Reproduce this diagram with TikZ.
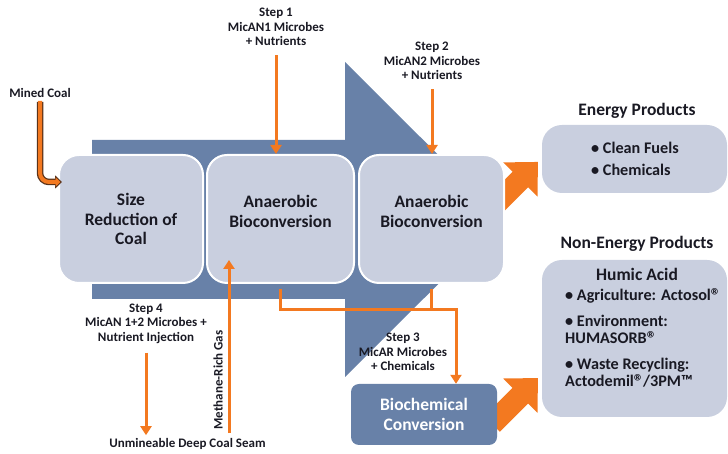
\documentclass[tikz,border=0pt]{standalone}
\usepackage{fontspec}
\setmainfont{Carlito}
\usetikzlibrary{arrows.meta}

\definecolor{flowblue}{RGB}{104,129,168}
\definecolor{boxblue}{RGB}{201,207,223}
\definecolor{feedorange}{RGB}{243,121,32}
\definecolor{txtdark}{RGB}{25,25,35}
\definecolor{rimbrown}{RGB}{90,50,25}

\newcommand\bigtxt{\fontsize{17.5}{19.5}\selectfont\bfseries}
\newcommand\listtxt{\fontsize{16.2}{17}\selectfont\bfseries}
\newcommand\smalltxt{\fontsize{13}{14.5}\selectfont\bfseries}
\newcommand\headtxt{\fontsize{17.5}{18}\selectfont\bfseries}
\newcommand\regmark{\smash{\raisebox{-1.5pt}{\fontsize{20}{17}\selectfont ®}}\kern-1pt}

\begin{document}
\begin{tikzpicture}[x=1pt,y=1pt,inner sep=0pt,
    stage/.style={rounded corners=20pt,fill=boxblue,draw=white,line width=2pt,
      minimum width=144pt,minimum height=128pt,align=center,font=\bigtxt,text=txtdark},
    product/.style={rounded corners=20pt,fill=boxblue},
    lbl/.style={align=center,font=\smalltxt,text=txtdark},
    feed/.style={draw=feedorange,line width=3pt,-{Triangle[length=9pt,width=11pt]}},
    feedline/.style={draw=feedorange,line width=3pt},
    fat/.style={draw=feedorange,line width=22pt,-{Triangle[length=25pt,width=47pt]}}]

  % ここまでをバウンディングボックス
  \useasboundingbox (0,0) rectangle (728,454);

  % big process arrow
  \fill[flowblue] (92,314) -- (345,314) -- (345,392) -- (503,234.5)
    -- (345,77) -- (345,155) -- (92,155) -- cycle;

  % product arrows (behind the boxes)
  \coordinate (e1) at (492,246.1);
  \coordinate (e2) at (538,292.1);
  \coordinate (n1) at (492,30);
  \coordinate (n2) at (538,76);
  \draw[fat] (e1) -- (e2);
  \draw[fat] (n1) -- (n2);

  % process stages
  \node[stage] (sizered) at (131,235) {Size\\Reduction of\\Coal};
  \node[stage,minimum width=147pt,text depth=15pt] (anaer1) at (280.5,235)
    {Anaerobic\\Bioconversion};
  \node[stage,minimum width=145pt,text depth=15pt] (anaer2) at (431.5,235)
    {Anaerobic\\Bioconversion};
  \node[rounded corners=8pt,fill=flowblue,minimum width=146pt,minimum height=61pt,
    align=center,font=\bigtxt,text=white] (biochem) at (424,39.5)
    {Biochemical\\Conversion};

  % products
  \node[product,minimum width=185pt,minimum height=68pt] (energy) at (634.5,295) {};
  \node[font=\headtxt,text=txtdark] (energyhead) at (637,343) {Energy Products};
  \node[align=left,font=\listtxt,text=txtdark] (energylist) at (635,295)
    {• Clean Fuels\\[5pt]• Chemicals};

  \node[product,minimum width=185pt,minimum height=157pt] (nonenergy) at (634.5,115.5) {};
  \node[font=\headtxt,text=txtdark] (nonenergyhead) at (637,210) {Non-Energy Products};
  \node[font=\bigtxt,text=txtdark] (humic) at (637,180) {Humic Acid};
  \node[anchor=north west,align=left,font=\listtxt,text=txtdark] (humiclist) at (565,165)
    {• Agriculture: Actosol\regmark\\[9pt]
     • Environment:\\HUMASORB\regmark\\[9pt]
     • Waste Recycling:\\Actodemil\regmark/3PM™};

  % inputs
  \node[lbl] (minedcoal) at (40,361) {Mined Coal};
  \node[lbl] (step1) at (276,427) {Step 1\\MicAN1 Microbes\\+ Nutrients};
  \node[lbl] (step2) at (432,393) {Step 2\\MicAN2 Microbes\\+ Nutrients};
  \node[lbl] (step3) at (403,102) {Step 3\\MicAR Microbes\\+ Chemicals};
  \node[lbl] (step4) at (146,130.5) {Step 4\\MicAN 1+2 Microbes +\\Nutrient Injection};
  \node[lbl] (seam) at (187.5,10) {Unmineable Deep Coal Seam};
  \node[lbl,rotate=90] (methane) at (218,74) {Methane-Rich Gas};

  % mined coal arrow with dark rim
  \coordinate (coalin) at (62,272);
  \draw[rimbrown,line width=6.5pt,rounded corners=9pt,-{Triangle[length=7pt,width=13pt]}]
    ([yshift=-4pt]minedcoal.south) |- (coalin);
  \draw[feedorange,line width=4pt,rounded corners=9pt,shorten >=1.5pt,
    -{Triangle[length=5pt,width=9pt]}]
    ([yshift=-3pt]minedcoal.south) |- (coalin);

  % feeds
  \draw[feed] ([yshift=-9pt]step1.south) -- (step1.south |- anaer1.north);
  \draw[feed] ([yshift=-9pt]step2.south) -- (step2.south |- anaer2.north);
  \draw[feed] ([yshift=-9pt]step4.south) -- ([yshift=3pt]step4.south |- seam.north);
  \coordinate (gasin) at (229,194);
  \draw[feed] ([yshift=5pt]gasin |- seam.north) -- (gasin);

  % step 3 route
  \coordinate (split) at (456,144);
  \draw[feed] ([yshift=-5pt]anaer1.south) |- (split) -- (split |- biochem.north);
  \draw[feedline] ([yshift=-5pt]anaer2.south) -- (anaer2.south |- split);
\end{tikzpicture}
\end{document}
